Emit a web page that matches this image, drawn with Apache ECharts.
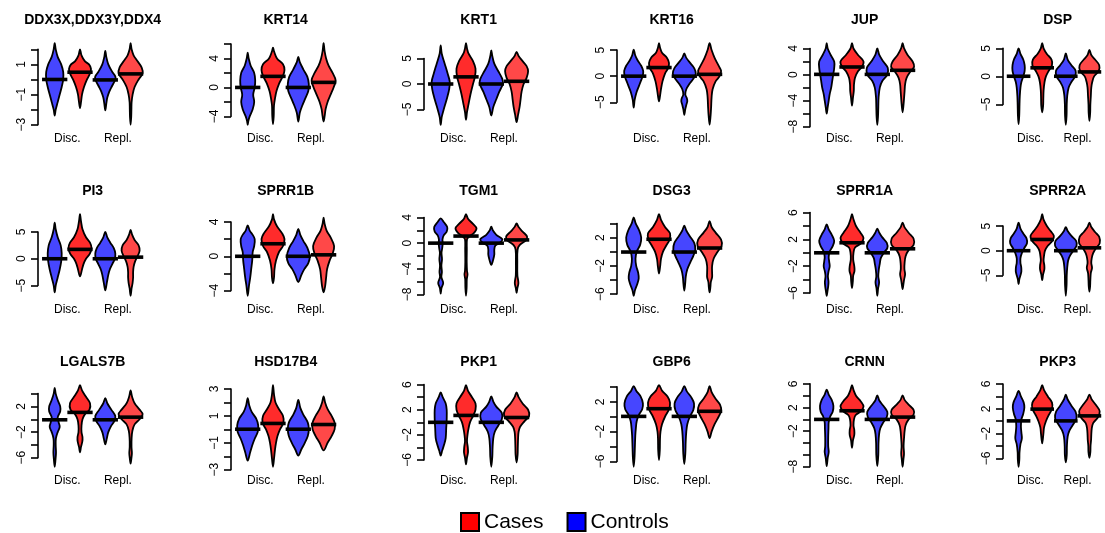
<!DOCTYPE html>
<html><head><meta charset="utf-8">
<script src="https://cdn.jsdelivr.net/npm/echarts@6/dist/echarts.min.js"></script>
<style>html,body{margin:0;padding:0;background:#fff}#c{width:1105px;height:533px}</style>
</head><body><div id="c"></div>
<script>
// ---------------- data ----------------
const genes = ['DDX3X,DDX3Y,DDX4','KRT14','KRT1','KRT16','JUP','DSP',
  'PI3','SPRR1B','TGM1','DSG3','SPRR1A','SPRR2A',
  'LGALS7B','HSD17B4','PKP1','GBP6','CRNN','PKP3'];
const groups = ['Disc.', 'Repl.'];
const groupPos = [1.5, 3.5];
// y axis ticks: [min, max, step]
const tickRanges = [[-3,2,1],[-4,6,2],[-5,5,5],[-5,5,5],[-8,4,2],[-5,5,5],
  [-5,5,5],[-4,4,2],[-8,4,2],[-6,4,2],[-6,6,2],[-5,5,5],
  [-6,4,2],[-3,3,1],[-6,6,2],[-6,4,2],[-8,6,2],[-6,6,2]];
// labelled ticks
const tickLabels = [[-3,-1,1],[-4,0,4],[-5,0,5],[-5,0,5],[-8,-4,0,4],[-5,0,5],
  [-5,0,5],[-4,0,4],[-8,-4,0,4],[-6,-2,2],[-6,-2,2,6],[-5,0,5],
  [-6,-2,2],[-3,-1,1,3],[-6,-2,2,6],[-6,-2,2],[-8,-2,2,6],[-6,-2,2,6]];
// medians: [Disc. controls, Disc. cases, Repl. controls, Repl. cases]
const medians = [[0,0.48,-0.03,0.37],[0,1.53,0,0.7],[0,1.4,0,0.53],[0,1.65,0,0.35],
  [0.03,1.16,0.03,0.65],[0.03,1.53,0.03,0.8],[0,1.75,0,0.3],[0,1.46,0,0.17],
  [0,1.1,0,0.5],[-0.05,1.76,-0.05,0.52],[0,1.5,0,0.6],[0,2.28,0,0.58],
  [-0.08,1.07,-0.08,0.33],[0.01,0.44,0.01,0.36],[0,1.1,0,0.77],[0.05,1.08,0.05,0.73],
  [0,1.46,0,0.39],[0.05,1.95,0.05,0.86]];
// violin density profiles: [value, relative density]
const discControls = [
 [[2.4,0],[2.0,1],[1.5,3],[1.0,6.5],[0.5,8.5],[0,8.5],[-0.5,7],[-1.0,5],[-1.5,3],[-2.0,1],[-2.4,0]],
 [[4.8,0],[4.0,1],[3.0,3],[2.0,6.5],[1.0,7.5],[0,7],[-1.0,5.5],[-2.0,6.5],[-3.0,5],[-4.0,2],[-4.6,0.7],[-5.15,0]],
 [[7.6,0],[6,1],[4,4],[2,7],[0.5,9],[-1,8.5],[-3,6],[-5,3],[-6.5,1],[-8,0]],
 [[5.1,0],[4,1.5],[3,4],[2,7.5],[1,9.5],[0,9],[-1,7],[-2,5],[-3,3],[-4.5,1],[-6,0]],
 [[4.8,0],[4,1],[3,4],[2,7.5],[1,7.5],[0,6.5],[-1,5.5],[-2,4.5],[-3,3],[-4,2],[-5,1],[-6,0]],
 [[5,0],[4,2],[3,5],[2,6.5],[1,6.5],[0,5],[-1,3],[-2,2],[-3.5,1.3],[-5,1],[-7,0.7],[-8.5,0]],
 [[6.75,0],[5.5,1],[4,3],[2.5,6],[1,7],[-0.5,6.5],[-2,5],[-3.5,3],[-5,1],[-6.25,0]],
 [[3.6,0],[3,2],[2.5,5],[2,7],[1.2,6.5],[0.5,5],[-0.5,4.5],[-1.5,3.5],[-2.5,2.5],[-3.5,1.2],[-4.6,0]],
 [[3.85,0],[3.3,3],[2.5,6.5],[1.8,6],[1.2,3],[0.6,1.8],[0,2],[-0.8,1.5],[-1.5,0.8],[-2.5,1.3],[-3.5,0.7],[-4.5,1.2],[-5.3,0.7],[-6.2,2.5],[-7,0.8],[-7.85,0]],
 [[4.86,0],[4,2],[3,5.5],[2,7.5],[1,6.5],[0,3],[-1,1.8],[-2,2.5],[-3,4.5],[-3.8,5],[-4.6,3.5],[-5.5,1.2],[-6.24,0]],
 [[4.25,0],[3.5,2],[2.7,5],[1.8,7.5],[1,6],[0.2,3],[-0.6,2],[-1.3,2.5],[-2,3],[-2.8,1.8],[-3.5,1.2],[-4.3,1.8],[-5,1.5],[-5.7,0.8],[-6.4,0]],
 [[5.7,0],[4.5,2],[3.5,5],[2.5,8.5],[1.5,9],[0.5,6],[-0.5,3.5],[-1.5,2],[-2.5,2],[-3.3,2.8],[-4.2,3],[-5,2],[-5.8,0.8],[-6.8,0]],
 [[4.9,0],[4,1],[3,3],[2,5.5],[1.2,5.5],[0.3,3],[-0.5,4],[-1.2,5],[-2,3],[-3,1.2],[-4,1],[-5.2,1.3],[-6.3,0.8],[-7.4,0]],
 [[2.32,0],[1.8,1.5],[1.3,4],[0.8,8.5],[0.3,10.5],[-0.2,10],[-0.7,7],[-1.2,4.5],[-1.7,2.5],[-2.33,0]],
 [[4.77,0],[4,2],[3,5],[2,6],[0.5,6],[-1,5.5],[-2.5,5],[-3.5,3.5],[-4.5,1.5],[-5.3,0]],
 [[4.1,0],[3.5,2.5],[2.7,7],[1.8,9.2],[1,8.5],[0.2,5],[-0.6,3],[-1.5,2.2],[-2.5,1.6],[-4,1.2],[-5.5,0.8],[-6.7,0]],
 [[5.04,0],[4.2,2],[3.3,5],[2.3,6.7],[1.3,6],[0.5,3.5],[-0.5,2],[-1.5,1.8],[-3,1.5],[-4.5,1.5],[-5.5,2],[-6.5,1],[-7.9,0]],
 [[4.9,0],[4,2.5],[3,5.5],[2.2,6.2],[1.2,5],[0.3,3],[-0.8,2.5],[-1.8,3],[-2.8,3.5],[-3.7,2],[-5,1],[-6.2,0.8],[-7.35,0]]
];
const discCases = [
 [[2.0,0],[1.6,1.5],[1.2,5],[1.0,9],[0.7,11],[0.4,10],[0,7],[-0.5,4],[-1.0,2],[-1.5,1],[-1.9,0]],
 [[5.5,0],[5.0,1],[4.0,4],[3.2,10],[2.4,11.5],[1.6,10],[0.5,6],[-0.5,3.5],[-1.5,2],[-2.5,1],[-4.0,0.7],[-5.05,0]],
 [[8,0],[7,1],[6,2.5],[4.5,7],[3,9.5],[1.5,9],[0,7],[-2,4.5],[-4,2.5],[-5.5,1],[-7,0]],
 [[6.3,0],[5.5,1],[4.5,3],[3.5,8],[2.5,10],[1.5,9],[0.5,6],[-1,3.5],[-2.5,2],[-3.8,1],[-4.8,0]],
 [[4.8,0],[4,1.5],[3,6],[2,11.5],[1.2,10],[0.5,6],[-0.5,3],[-1.5,2],[-2.5,1.8],[-3.5,1],[-4.75,0]],
 [[5.9,0],[5,1.5],[4,5],[3,10],[2,10.5],[1,7],[0,4],[-1,2.5],[-2.5,1.5],[-4,1.2],[-5.2,1],[-6.4,0]],
 [[8.3,0],[7,1],[5.5,2.5],[4,6],[3,10],[2,11.5],[1,10],[0,6],[-1,3.5],[-2,2],[-3.3,0]],
 [[4.9,0],[4.3,1],[3.5,4],[2.7,9],[2,11.5],[1.2,10],[0.5,6],[-0.5,3],[-1.5,1.5],[-2.5,1],[-3.15,0]],
 [[4.5,0],[3.8,2],[3,7],[2.3,10.5],[1.6,8],[1.0,3],[0.6,1],[-1,0.8],[-3,0.7],[-4.3,1],[-4.9,1.5],[-5.6,0.8],[-7,0.6],[-8.2,0]],
 [[5.3,0],[4.5,2],[3.5,6],[2.6,11],[1.7,10.5],[0.8,7],[0,4],[-1,2],[-2,1.2],[-3.1,0]],
 [[5.75,0],[5,1.5],[4,4],[3,8.5],[2.2,11.5],[1.4,9],[0.8,3],[0,1.5],[-1,1.2],[-2,2.3],[-2.7,2.5],[-3.4,1.2],[-4.3,0.8],[-5.25,0]],
 [[7.4,0],[6.3,1.5],[5,5],[4,9],[3,12.5],[2,11],[1,6],[0,3],[-1,2],[-2,1.5],[-3,2.3],[-3.8,2.3],[-4.8,1],[-5.95,0]],
 [[5.3,0],[4.5,2],[3.5,6],[2.5,10],[1.5,9.5],[0.8,5],[0,2.5],[-1,1.5],[-2,1.5],[-2.8,2.5],[-3.5,2.3],[-4.3,1],[-5.16,0]],
 [[3.28,0],[2.6,1],[2,2.5],[1.5,6],[1,10],[0.5,10.5],[0,7],[-0.5,4.5],[-1,3],[-1.5,2],[-2.2,1],[-2.78,0]],
 [[5.9,0],[5,2],[4,6],[3,9.5],[2,9.5],[1,7],[0,4],[-1,2.5],[-2,1.5],[-3,1],[-4,1.8],[-4.8,2],[-5.6,1],[-6.7,0]],
 [[4.22,0],[3.5,3],[2.7,8.5],[1.9,11],[1,10],[0,6],[-1,3],[-2,1.5],[-3,1],[-4.5,0.8],[-5.8,0]],
 [[5.77,0],[5,1.5],[4,4],[3,9],[2.2,11.5],[1.4,9],[0.7,3.5],[0,2],[-1,1.5],[-1.8,2.3],[-2.6,2.3],[-3.5,1],[-4.77,0]],
 [[5.8,0],[5,2],[4,6],[3,10.5],[2,10.5],[1,7],[0,4],[-1,2],[-2,1.3],[-3.57,0]]
];
const replControls = [
 [[1.9,0],[1.5,1],[1.0,3],[0.5,7],[0.2,10],[0,10],[-0.4,7],[-0.8,4],[-1.2,2],[-1.6,1],[-2.05,0]],
 [[4.2,0],[3.5,1.5],[2.5,5],[1.5,9],[0.5,10.5],[-0.5,10],[-1.5,7],[-2.5,4],[-3.5,1.5],[-4.7,0]],
 [[6.6,0],[5.5,1],[4,3],[2.5,7],[1,11],[0,11.5],[-1.5,8],[-3,5],[-4.5,2],[-6.2,0]],
 [[4.35,0],[3.5,2],[2.5,6],[1.5,10],[0.5,11.5],[-0.5,9],[-1.5,5],[-2.5,2],[-3.5,1],[-4.2,2.5],[-4.8,3],[-5.5,2],[-6.3,1],[-7.4,0]],
 [[4,0],[3,2],[2,6],[1,10.5],[0,10],[-1,5],[-2,2.5],[-3.5,1.3],[-5,1],[-6.5,0.7],[-7.7,0]],
 [[4.1,0],[3,2],[2,6],[1,10.5],[0,10],[-1,6],[-2,3],[-3.5,1.5],[-5,1],[-7,0.8],[-8.6,0]],
 [[5,0],[4,2],[3,5],[2,8.5],[1,10],[0,9.5],[-1,7],[-2,4.5],[-3,3],[-4.5,1.5],[-5.9,0]],
 [[3.2,0],[2.5,2],[1.8,5],[1,9],[0,11.5],[-0.8,10],[-1.5,6],[-2.2,3],[-3,0]],
 [[2.55,0],[2,1.5],[1.3,5],[0.6,11],[0.1,9],[-0.4,4],[-1,3],[-1.8,3],[-2.5,2],[-3.4,0]],
 [[3.67,0],[3,2],[2.2,5.5],[1.2,10],[0.3,11],[-0.6,9],[-1.5,6],[-2.5,3],[-3.5,1.5],[-4.5,0.9],[-5.5,0]],
 [[3.6,0],[3,2],[2.3,5],[1.5,9.5],[0.7,10],[0,6.5],[-0.8,3.5],[-1.6,2.5],[-2.5,1.5],[-3.5,1],[-4.4,1.8],[-5.3,0.8],[-6.4,0]],
 [[4.8,0],[4,2],[3,6],[2,11],[1,11.5],[0,8],[-1,4.5],[-2,2.5],[-3.5,1.5],[-5,1],[-7,0.8],[-9.15,0]],
 [[3.3,0],[2.5,2],[1.5,6],[0.5,10],[-0.3,9],[-1,6],[-2,3],[-3,1.5],[-3.9,0]],
 [[2.2,0],[1.6,2],[1.1,5],[0.5,9.5],[0,10.5],[-0.5,9.5],[-1,6.5],[-1.5,3],[-1.95,0]],
 [[4.13,0],[3.3,2],[2.5,5],[1.5,10.5],[0.5,10.5],[-0.5,7],[-1.5,3.5],[-2.5,2],[-4,1.3],[-5.5,1],[-7.07,0]],
 [[4.1,0],[3.4,2.5],[2.6,7],[1.8,9.7],[0.9,9],[0,5.5],[-1,3],[-2,2],[-3.3,1.4],[-5,1],[-6.35,0]],
 [[4.07,0],[3.2,2],[2.3,6],[1.3,10],[0.4,9.5],[-0.5,6],[-1.5,3],[-2.5,1.8],[-4,1.2],[-6,1],[-7.9,0]],
 [[4.27,0],[3.5,2],[2.5,6],[1.5,10.5],[0.5,11.5],[-0.5,8],[-1.5,4],[-2.5,2],[-4,1.2],[-5.5,1],[-6.65,0]]
];
const replCases = [
 [[2.4,0],[2.0,1],[1.6,3],[1.2,7],[0.8,11],[0.4,12],[0,8],[-0.5,4],[-1.0,2],[-1.5,1],[-2.0,0.8],[-2.5,0.6],[-3.0,0]],
 [[6.1,0],[5.0,1],[4.0,2.5],[3.0,5],[2.0,9],[1.0,12],[0,10],[-1.0,7],[-2.0,4],[-3.0,2],[-4.0,1],[-4.7,0]],
 [[6.3,0],[5.5,2],[4.5,6],[3.5,10],[2.5,11.5],[1.2,10],[0,7],[-1.5,5],[-3,4],[-4.5,3],[-6,1.5],[-7.5,0]],
 [[6.3,0],[5,2],[3.5,5],[2,9],[1,11.5],[0,10],[-1,6],[-2.5,3],[-4,2],[-6,1.5],[-7.5,1],[-9.3,0]],
 [[4.8,0],[4,1.5],[3,5],[2,10],[1.2,11.5],[0.5,8],[-0.5,4],[-1.5,2.5],[-2.5,2],[-3.5,1.5],[-4.5,1],[-5.8,0]],
 [[4.7,0],[3.8,2],[3,6],[2,10.5],[1,10],[0,5],[-1,3],[-2,2],[-3.5,1.5],[-5,1],[-6.5,0.8],[-7.9,0]],
 [[5.4,0],[4.5,1.5],[3.5,4],[2.5,8],[1.5,9],[0.5,7],[-0.5,4.5],[-1.5,3],[-2.5,2.5],[-3.5,2.5],[-4.5,2],[-5.5,1],[-6.9,0]],
 [[4.5,0],[3.8,1],[3,3],[2.2,7],[1.2,10.5],[0.3,9],[-0.5,6],[-1.5,3.5],[-2.5,2.5],[-3.5,1.5],[-4.2,0]],
 [[3.07,0],[2.5,2],[1.8,6],[1.0,10.5],[0.4,9],[-0.3,3],[-1,1],[-3,0.7],[-5,0.8],[-6.2,1.8],[-7,0.8],[-7.75,0]],
 [[4.33,0],[3.5,2],[2.7,6],[1.7,11.5],[0.8,12],[0,8],[-1,4],[-2,2.5],[-3,2.5],[-3.6,2.5],[-4.3,1.2],[-5,0.8],[-5.76,0]],
 [[4.5,0],[3.8,2],[3,6],[2.1,11],[1.2,11],[0.4,6],[-0.5,3],[-1.5,2],[-2.4,1.8],[-3.2,2.5],[-4,1.5],[-4.7,0.8],[-5.4,0]],
 [[5.7,0],[4.8,2],[3.8,6],[2.8,10.5],[1.5,11],[0.5,7],[-0.5,4],[-1.5,2.5],[-2.5,2],[-3.5,2.8],[-4.5,1.5],[-6,1],[-7.3,0.7],[-8.3,0]],
 [[4.5,0],[3.5,1.5],[2.5,4],[1.5,9],[0.8,12],[0,9],[-0.8,4],[-1.8,1.8],[-3,1],[-4.3,0.9],[-5.3,1.3],[-6.1,0.8],[-6.9,0]],
 [[2.45,0],[2,1.5],[1.5,4],[1,8],[0.5,11],[0,11],[-0.5,8],[-1,4],[-1.57,0]],
 [[4.77,0],[4,2],[3,6],[2,11.5],[1,12.5],[0.2,8],[-0.7,3.5],[-1.5,2],[-2.5,1.5],[-4,1.2],[-5.2,1],[-6.4,0]],
 [[4.1,0],[3.3,2],[2.5,5.5],[1.6,10.5],[0.8,11.5],[0,9],[-1,5],[-2,2],[-2.86,0]],
 [[4.07,0],[3.3,2],[2.5,6],[1.6,11],[0.8,11],[0,6],[-1,3],[-2,2],[-3,1.5],[-4.5,1],[-5.8,1.4],[-6.8,0.8],[-8,0]],
 [[4.27,0],[3.5,2.5],[2.6,7],[1.6,11],[0.6,9],[-0.3,4],[-1.2,2.5],[-2.2,2],[-3,1.8],[-4,1.2],[-5,1],[-5.9,0]]
];

// ---------------- layout / style ----------------
const FONT = 'Liberation Sans, Arial, Helvetica, sans-serif';
const ROW_TOP = [40, 211, 382], ROW_H = 88;
const COL_LEFT0 = 38, COL_PITCH = 193, PLOT_W = 109.3;
const X_MIN = 0.34, X_MAX = 4.66;
const DSCALE = (X_MAX - X_MIN) / PLOT_W;   // density unit -> x units
const shapeSets = [discControls, discCases, replControls, replCases];
const fills = ['#4646FF', '#FF2B2B', '#4646FF', '#FF4848'];
const fmt = v => String(v).replace('-', '\u2212');

const grids = [], xAxes = [], yAxes = [], titles = [], series = [];

function makeRender(p) {
  return function (params, api) {
    const pos = api.value(0), med = api.value(1), idx = api.value(2);
    const shape = shapeSets[idx][p];
    const pts = [];
    for (const [y, d] of shape) pts.push(api.coord([pos + d * DSCALE, y]));
    for (let i = shape.length - 2; i >= 1; i--) {
      const [y, d] = shape[i];
      pts.push(api.coord([pos - d * DSCALE, y]));
    }
    const a = api.coord([pos - 0.5, med]), b = api.coord([pos + 0.5, med]);
    return {
      type: 'group',
      children: [
        { type: 'polygon', shape: { points: pts, smooth: 0.35 },
          style: { fill: fills[idx], stroke: '#000', lineWidth: 1.8, lineJoin: 'round' } },
        { type: 'line', z2: 10, shape: { x1: a[0], y1: a[1], x2: b[0], y2: b[1] },
          style: { stroke: '#000', lineWidth: 3.6 } }
      ]
    };
  };
}

genes.forEach((g, p) => {
  const r = Math.floor(p / 6), c = p % 6;
  const T = ROW_TOP[r];
  let lo = Infinity, hi = -Infinity;
  shapeSets.forEach(s => s[p].forEach(([y]) => { lo = Math.min(lo, y); hi = Math.max(hi, y); }));
  const pad = 0.04 * (hi - lo), uLo = lo - pad, uHi = hi + pad;
  const k = ROW_H / (uHi - uLo);
  const [tMin, tMax, tStep] = tickRanges[p];
  const top = T + (uHi - tMax) * k, height = (tMax - tMin) * k;
  const left = COL_LEFT0 + COL_PITCH * c;
  const bottomPx = top + height;
  grids.push({ left, top, width: PLOT_W, height, containLabel: false });
  titles.push({ text: g, left: left + PLOT_W / 2, top: T - 28, textAlign: 'center', padding: 0,
    textStyle: { fontFamily: FONT, fontSize: 14, fontWeight: 'bold', color: '#000', lineHeight: 16 } });
  xAxes.push({ gridIndex: p, type: 'value', min: X_MIN, max: X_MAX,
    axisLine: { show: false, onZero: false }, axisTick: { show: false }, splitLine: { show: false },
    axisLabel: { customValues: groupPos, margin: Math.max(0, T + ROW_H + 4.5 - bottomPx),
      fontFamily: FONT, fontSize: 12, color: '#000',
      formatter: v => groups[groupPos.indexOf(v)] || '' } });
  const labs = tickLabels[p];
  yAxes.push({ gridIndex: p, type: 'value', min: tMin, max: tMax, interval: tStep,
    axisLine: { show: true, onZero: false, lineStyle: { color: '#000', width: 1.6 } },
    axisTick: { show: true, length: 7, lineStyle: { color: '#000', width: 1.6 } },
    splitLine: { show: false },
    axisLabel: { rotate: 90, margin: 10, fontFamily: FONT, fontSize: 12, color: '#000',
      showMinLabel: true, showMaxLabel: true,
      formatter: v => labs.some(t => Math.abs(t - v) < 1e-9) ? fmt(v) : '' } });
  series.push({ type: 'custom', name: 'Controls', xAxisIndex: p, yAxisIndex: p,
    itemStyle: { color: '#0000FF' }, renderItem: makeRender(p),
    data: [[1, medians[p][0], 0], [3, medians[p][2], 2]] });
  series.push({ type: 'custom', name: 'Cases', xAxisIndex: p, yAxisIndex: p,
    itemStyle: { color: '#FF0000' }, renderItem: makeRender(p),
    data: [[2, medians[p][1], 1], [4, medians[p][3], 3]] });
});

const chart = echarts.init(document.getElementById('c'));
chart.setOption({
  animation: false,
  backgroundColor: '#fff',
  textStyle: { fontFamily: FONT },
  title: titles,
  grid: grids,
  xAxis: xAxes,
  yAxis: yAxes,
  legend: {
    left: 460, top: 511, padding: 0, icon: 'rect', itemWidth: 18, itemHeight: 18, itemGap: 23,
    selectedMode: false,
    textStyle: { fontFamily: FONT, fontSize: 21, color: '#000', lineHeight: 22 },
    data: [
      { name: 'Cases', itemStyle: { color: '#FF0000', borderColor: '#000', borderWidth: 2 } },
      { name: 'Controls', itemStyle: { color: '#0000FF', borderColor: '#000', borderWidth: 2 } }
    ]
  },
  series
});
</script>
</body></html>
